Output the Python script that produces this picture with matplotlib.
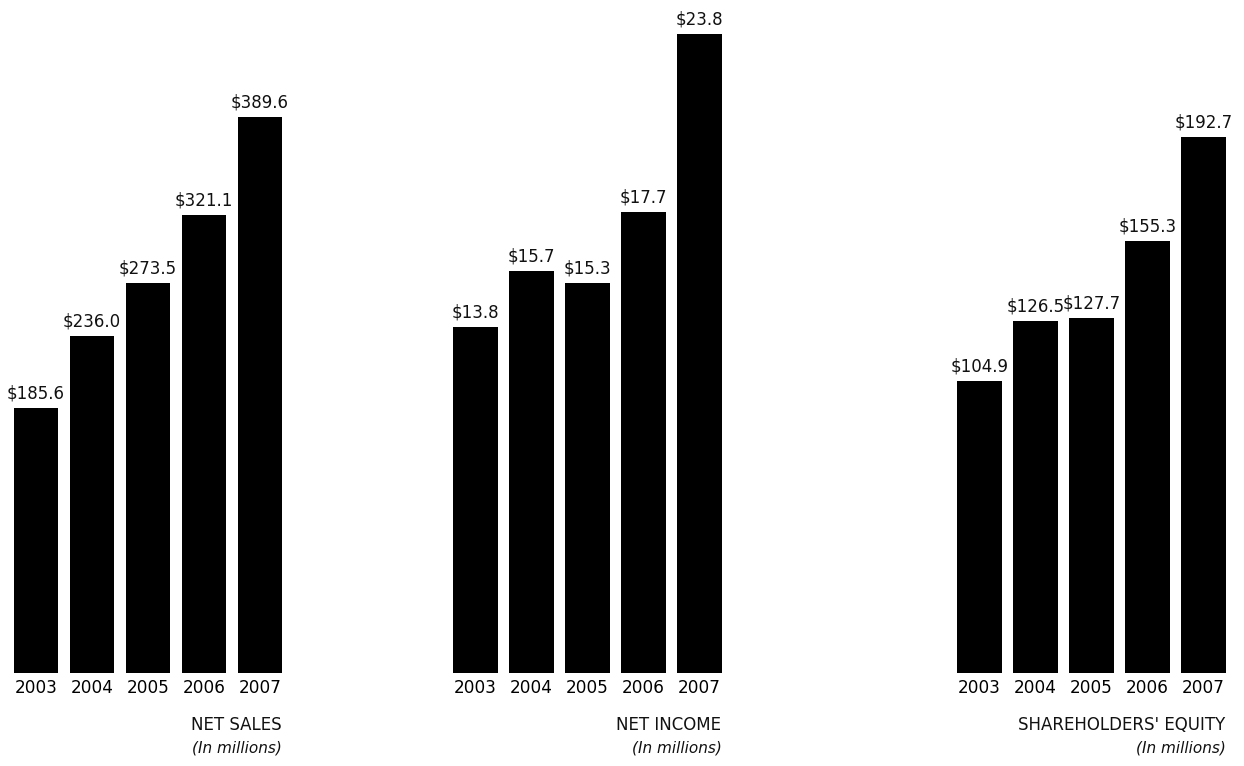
import numpy as np
import matplotlib
matplotlib.use("Agg")
import matplotlib.pyplot as plt

years = ["2003", "2004", "2005", "2006", "2007"]
net_sales = [185.6, 236.0, 273.5, 321.1, 389.6]
net_income = [13.8, 15.7, 15.3, 17.7, 23.8]
equity = [104.9, 126.5, 127.7, 155.3, 192.7]

titles = ["NET SALES", "NET INCOME", "SHAREHOLDERS' EQUITY"]
series = [net_sales, net_income, equity]

W, H = 1244, 766
fig = plt.figure(figsize=(W / 100, H / 100), dpi=100)

# pixel layout of each panel: left edge, and y-range mapped to the plot height
lefts = [8, 447.5, 951.5]
ylims = [(0, 471.9), (1.98, 24.95), (0, 242.0)]
base_px = 673  # bar baseline, pixels from top

for vals, title, left, ylim in zip(series, titles, lefts, ylims):
    ax = fig.add_axes([left / W, (H - base_px) / H, 280 / W, base_px / H])
    x = np.arange(len(years))
    bars = ax.bar(x, vals, width=0.8, color="black")
    ax.bar_label(bars, labels=[f"${v:.1f}" for v in vals], padding=4,
                 fontsize=12, color="#111111")
    ax.set_xlim(-0.5, 4.5)
    ax.set_ylim(*ylim)
    ax.set_xticks(x)
    ax.set_xticklabels(years, fontsize=12.2)
    ax.tick_params(axis="x", length=0, pad=4)
    ax.set_yticks([])
    for s in ax.spines.values():
        s.set_visible(False)
    ax.patch.set_alpha(0)

    right = (left + 280 - 6) / W
    fig.text(right, (H - 725) / H, title, ha="right", va="center",
             fontsize=12, color="#111111")
    fig.text(right, (H - 748) / H, "(In millions)", ha="right", va="center",
             fontsize=11, style="italic", color="#111111")

fig.savefig("out.png", dpi=100)
